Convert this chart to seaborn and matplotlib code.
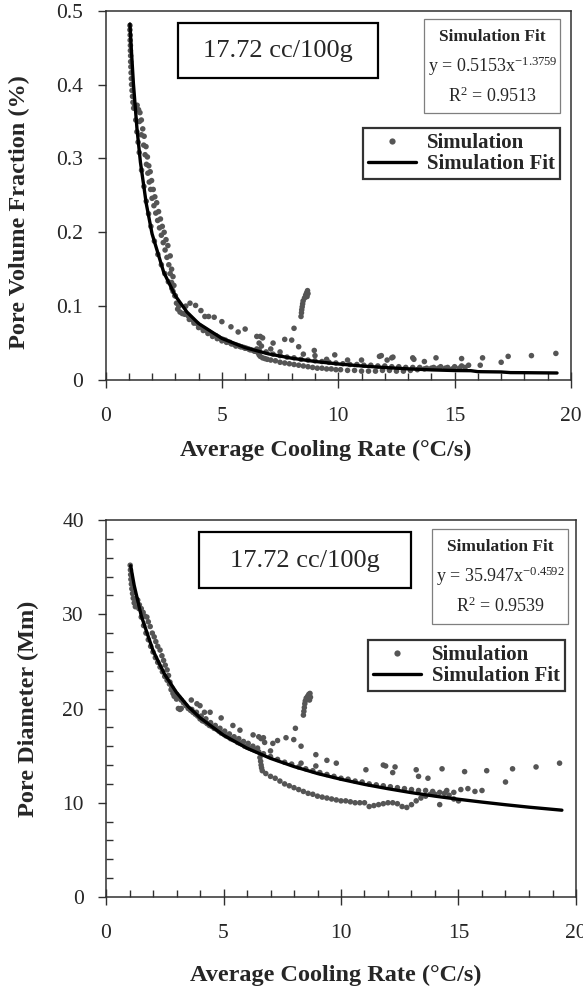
import numpy as np
import pandas as pd
import matplotlib
matplotlib.use("Agg")
import matplotlib.pyplot as plt
import seaborn as sns
from matplotlib.patches import Rectangle
from matplotlib.lines import Line2D
from matplotlib.ticker import MultipleLocator, FixedLocator, FixedFormatter

# ---------------- data ----------------
vf_sim_points = [
    (1.05,0.480),(1.05,0.474),(1.06,0.467),(1.06,0.460),(1.07,0.453),(1.07,0.446),(1.08,0.439),(1.08,0.431),
    (1.09,0.424),(1.10,0.416),(1.11,0.408),(1.12,0.400),(1.14,0.392),(1.16,0.384),(1.18,0.376),(1.21,0.368),
    (1.36,0.372),(1.42,0.366),(1.48,0.362),(1.46,0.350),(1.54,0.352),(1.60,0.340),(1.54,0.332),(1.66,0.330),
    (1.64,0.318),(1.74,0.316),(1.70,0.305),(1.80,0.302),(1.76,0.292),(1.86,0.290),(1.82,0.280),(1.92,0.282),
    (1.88,0.268),(1.98,0.270),(1.94,0.258),(2.05,0.258),(2.00,0.246),(2.12,0.248),(2.08,0.236),(2.20,0.240),
    (2.16,0.226),(2.28,0.228),(2.24,0.216),(2.36,0.218),(2.32,0.206),(2.44,0.208),(2.40,0.196),(2.52,0.200),
    (2.48,0.186),(2.60,0.190),(2.56,0.176),(2.68,0.182),(2.64,0.166),(2.78,0.168),(2.72,0.156),(2.84,0.150),
    (2.78,0.144),(2.90,0.140),(2.84,0.132),(2.94,0.128),(2.90,0.120),(2.98,0.114),
    (1.25,0.372),(1.30,0.352),(1.35,0.336),(1.40,0.322),(1.45,0.308),(1.55,0.284),(1.65,0.262),(1.75,0.242),
    (1.85,0.225),(1.95,0.208),(2.10,0.188),(2.25,0.170),(2.40,0.156),(2.55,0.144),(2.70,0.133),(2.85,0.124),
    (3.00,0.114),(3.05,0.104),(3.10,0.096),(3.20,0.092),(3.30,0.090),(3.40,0.089),(3.15,0.100),
    (3.45,0.090),(3.55,0.087),(3.65,0.084),(3.75,0.081),(3.85,0.078),(3.95,0.076),(4.05,0.073),(4.15,0.071),
    (4.25,0.069),(4.35,0.067),(4.45,0.065),(4.55,0.063),(4.65,0.061),(4.75,0.060),(4.85,0.058),(4.95,0.056),
    (5.05,0.055),(5.15,0.054),(5.25,0.052),(5.35,0.051),(5.45,0.049),(5.55,0.048),(5.65,0.047),(5.75,0.046),
    (5.85,0.045),(5.95,0.044),(6.05,0.043),(6.15,0.042),(6.25,0.041),(6.35,0.040),(6.45,0.039),
    (3.60,0.082),(3.80,0.077),(4.00,0.071),(4.20,0.067),(4.40,0.063),(4.60,0.059),(4.80,0.056),(5.00,0.053),
    (5.20,0.051),(5.40,0.049),(5.60,0.046),(5.80,0.045),(6.00,0.043),(6.20,0.041),(6.40,0.039),
    (3.45,0.100),(3.63,0.104),(3.87,0.101),(4.10,0.094),(4.27,0.086),(4.43,0.086),(4.67,0.085),(5.00,0.079),
    (5.39,0.072),(5.70,0.065),(6.00,0.069),(6.50,0.059),(6.65,0.059),(6.75,0.057),(6.60,0.050),(6.70,0.046),
    (7.20,0.050),(7.70,0.055),(8.10,0.070),(8.00,0.054),(8.30,0.045),(8.97,0.040),(9.85,0.034),(9.50,0.028),
    (10.40,0.027),(11.00,0.027),(11.77,0.032),(11.85,0.033),(12.10,0.027),(12.30,0.030),(12.35,0.031),
    (13.20,0.030),(13.25,0.028),(13.70,0.025),(14.20,0.030),(15.30,0.029),(15.60,0.020),(16.10,0.020),
    (16.20,0.030),(17.00,0.024),(17.30,0.032),(18.30,0.033),(19.35,0.036),(7.10,0.042),(7.50,0.038),
    (8.50,0.035),(9.00,0.033),
    (8.40,0.086),(8.42,0.091),(8.43,0.095),(8.45,0.099),(8.47,0.103),(8.49,0.107),(8.55,0.111),(8.60,0.115),
    (8.64,0.118),(8.68,0.121),(8.70,0.117),(8.66,0.113),
    (6.50,0.042),(6.55,0.037),(6.60,0.034),(6.65,0.032),(6.75,0.030),(6.85,0.029),(6.95,0.028),(7.10,0.027),
    (7.30,0.026),(7.50,0.024),(7.70,0.023),(7.90,0.022),(8.10,0.021),(8.30,0.020),(8.50,0.019),(8.70,0.018),
    (8.90,0.017),(9.10,0.016),(9.30,0.016),(9.50,0.015),(9.70,0.015),(9.90,0.014),(10.10,0.014),(10.40,0.013),
    (10.70,0.013),(11.00,0.012),(11.30,0.012),(11.60,0.012),(11.90,0.013),(12.20,0.013),(12.50,0.012),
    (12.80,0.012),(13.10,0.013),(13.40,0.014),(13.70,0.015),(14.00,0.016),(14.30,0.016),(14.60,0.016),
    (14.90,0.015),(15.20,0.016),(15.45,0.017),
    (6.60,0.041),(6.90,0.038),(7.20,0.035),(7.50,0.033),(7.80,0.031),(8.10,0.030),(8.40,0.028),(8.70,0.027),
    (9.00,0.026),(9.30,0.025),(9.60,0.024),(9.90,0.023),(10.20,0.022),(10.50,0.021),(10.80,0.021),(11.10,0.020),
    (11.40,0.020),(11.70,0.019),(12.00,0.019),(12.30,0.018),(12.60,0.018),(12.90,0.017),(13.20,0.017),
    (13.50,0.017),(13.80,0.016),(14.10,0.017),(14.40,0.018),(14.70,0.017),(15.00,0.018),(15.30,0.019),
]
vf_fit_x = [1.05, 1.1, 1.2, 1.35, 1.5, 1.75, 2.0, 2.5, 3.0, 3.5, 4.0, 5.0, 6.0, 7.0, 8.0, 9.0, 10.0,
            11.0, 12.0, 13.0, 14.0, 15.0, 15.7, 16.0, 17.0, 17.4, 18.0, 19.4]
vf_fit_y = [0.482, 0.453, 0.401, 0.341, 0.295, 0.239, 0.198, 0.146, 0.114, 0.092, 0.0765, 0.0563, 0.0438,
            0.0354, 0.0295, 0.0251, 0.0217, 0.0190, 0.0169, 0.0151, 0.0137, 0.0128, 0.0126, 0.0113, 0.0109,
            0.0100, 0.0099, 0.0095]

pd_sim_points = [
    (1.03,35.2),(1.04,34.7),(1.05,34.2),(1.06,33.7),(1.08,33.2),(1.10,32.7),(1.13,32.2),(1.16,31.7),(1.20,31.2),
    (1.25,30.8),
    (1.35,31.5),(1.42,31.0),(1.50,30.6),(1.58,30.2),(1.65,29.8),(1.74,29.7),(1.80,29.2),(1.88,28.7),(1.97,28.0),
    (2.05,27.6),(2.12,27.1),(2.20,26.6),(2.30,26.2),(2.38,25.6),(2.45,25.1),(2.52,24.6),(2.60,24.1),(2.66,23.5),
    (2.72,22.8),(2.77,22.0),(2.85,21.6),(2.90,21.3),(3.00,21.0),(3.08,20.0),(3.15,19.9),(3.20,20.0),
    (1.30,31.6),(1.40,30.6),(1.50,29.7),(1.60,28.8),(1.70,28.0),(1.80,27.3),(1.90,26.6),(2.00,26.0),(2.10,25.4),
    (2.20,24.9),(2.30,24.4),(2.40,23.9),(2.50,23.4),(2.60,23.0),(2.70,22.6),(2.80,22.2),(2.90,21.8),(3.00,21.5),
    (3.10,21.2),(3.20,20.9),(3.30,20.6),(3.40,20.3),
    (3.50,20.0),(3.60,19.8),(3.70,19.6),(3.80,19.4),(3.90,19.2),(4.00,18.9),(4.10,18.7),(4.20,18.6),(4.30,18.4),
    (4.40,18.2),(4.50,18.1),(4.60,17.9),(4.70,17.8),(4.80,17.6),(4.90,17.4),(5.00,17.3),(5.10,17.1),(5.20,17.0),
    (5.30,16.8),(5.40,16.7),(5.50,16.6),(5.60,16.4),(5.70,16.3),(5.80,16.2),(5.90,16.0),(6.00,15.9),(6.10,15.8),
    (6.20,15.7),(6.30,15.6),(6.40,15.5),(6.50,15.4),
    (3.65,19.9),(3.85,19.6),(4.05,19.2),(4.25,18.9),(4.45,18.5),(4.65,18.2),(4.85,17.9),(5.05,17.6),(5.25,17.3),
    (5.45,17.0),(5.65,16.8),(5.85,16.5),(6.05,16.3),(6.25,16.0),(6.45,15.8),
    (3.63,20.9),(3.87,20.5),(4.00,20.3),(4.19,19.6),(4.43,19.6),(4.90,19.0),(5.40,18.2),(5.70,17.7),(6.26,17.2),
    (6.50,17.0),(6.60,16.8),(6.70,16.9),(6.75,16.4),(7.10,16.3),(7.30,16.6),(7.66,16.9),(8.06,17.9),(7.99,16.7),
    (8.30,16.0),(8.93,15.1),(8.30,14.2),(8.93,13.9),(9.80,14.2),(11.06,13.5),(11.80,14.0),(11.90,13.9),
    (12.30,13.8),(12.20,13.2),(13.20,13.5),(13.30,12.8),(13.70,12.6),(14.30,13.6),(15.26,13.3),(16.20,13.4),
    (17.00,12.2),(17.30,13.6),(18.30,13.8),(19.30,14.2),(9.40,14.5),(7.00,15.5),
    (8.40,19.3),(8.42,19.7),(8.44,20.1),(8.46,20.5),(8.48,20.8),(8.52,21.1),(8.58,21.3),(8.63,21.5),(8.68,21.6),
    (8.70,21.2),(8.66,20.9),
    (6.55,14.8),(6.58,14.4),(6.60,14.0),(6.62,13.7),(6.65,13.4),
    (6.80,13.1),(7.00,12.8),(7.20,12.6),(7.40,12.3),(7.60,12.0),(7.80,11.8),(8.00,11.6),(8.20,11.4),(8.40,11.2),
    (8.60,11.0),(8.80,10.9),(9.00,10.7),(9.20,10.6),(9.40,10.5),(9.60,10.4),(9.80,10.3),(10.00,10.2),
    (10.20,10.2),(10.40,10.1),(10.60,10.0),(10.80,10.0),(11.00,10.0),(11.20,9.6),(11.40,9.7),(11.60,9.8),
    (11.80,9.9),(12.00,10.0),(12.20,10.0),(12.40,9.9),(12.60,9.6),(12.80,9.5),(13.00,9.8),(13.20,10.2),
    (13.40,10.5),(13.60,10.7),(13.80,10.9),(14.00,10.9),(14.20,9.8),(14.40,11.0),(14.60,10.8),(14.80,10.4),
    (15.00,10.2),
    (6.70,15.2),(7.00,14.9),(7.30,14.6),(7.60,14.3),(7.90,14.1),(8.20,13.8),(8.50,13.6),(8.80,13.4),(9.10,13.2),
    (9.40,13.0),(9.70,12.8),(10.00,12.6),(10.30,12.5),(10.60,12.3),(10.90,12.2),(11.20,12.0),(11.50,11.9),
    (11.80,11.8),(12.10,11.7),(12.40,11.6),(12.70,11.5),(13.00,11.4),(13.30,11.3),(13.60,11.3),(13.90,11.2),
    (14.20,11.1),(14.50,11.3),(14.80,11.1),(15.10,11.4),(15.40,11.5),(15.70,11.2),(16.00,11.3),
]
pd_fit_x = [1.05, 1.2, 1.5, 2.0, 2.5, 3.0, 3.5, 4.0, 5.0, 6.0, 7.0, 8.0, 9.0, 10.0, 11.0, 12.0, 13.0,
            14.0, 15.0, 16.0, 17.0, 18.0, 19.4]
pd_fit_y = [35.15, 33.06, 29.84, 26.15, 23.6, 21.7, 20.2, 19.02, 17.17, 15.79, 14.71, 13.84, 13.1, 12.49,
            11.95, 11.49, 11.07, 10.7, 10.37, 10.07, 9.79, 9.53, 9.21]

x_ticks = [0, 5, 10, 15, 20]
vf_ticks = [0, 0.1, 0.2, 0.3, 0.4, 0.5]
vf_tick_labels = ["0", "0.1", "0.2", "0.3", "0.4", "0.5"]
pd_ticks = [0, 10, 20, 30, 40]
pd_tick_labels = ["0", "10", "20", "30", "40"]

x_title = "Average Cooling Rate (\u00b0C/s)"
vf_title = "Pore Volume Fraction (%)"
pd_title = "Pore Diameter (Mm)"
box_label = "17.72 cc/100g"
vf_eq = r"y = 0.5153x$^{-1.3759}$"
vf_r2 = r"R$^{2}$ = 0.9513"
pd_eq = r"y = 35.947x$^{-0.4592}$"
pd_r2 = r"R$^{2}$ = 0.9539"
legend_labels = ["Simulation", "Simulation Fit"]

# ---------------- style ----------------
sns.set_style("ticks")
plt.rcParams['font.family'] = ['Liberation Serif', 'DejaVu Serif']
plt.rcParams['mathtext.default'] = 'regular'
SPINE = '#303030'
DOT = '#555555'

W, H = 583, 991
fig = plt.figure(figsize=(W / 100, H / 100), dpi=100)


def fx(px):
    return px / W


def fy(py):
    return 1 - py / H


def panel(ax_px, pts, fit_x, fit_y, ylim, yticks, ylabels, ytitle, ytitle_px,
          xtitle_px, box_px, fit_box_px, eq, r2, leg_anchor_px, yminor):
    l, t, r, b = ax_px
    ax = fig.add_axes([fx(l), fy(b), (r - l) / W, (b - t) / H])
    df = pd.DataFrame(pts, columns=["rate", "val"])
    sns.scatterplot(data=df, x="rate", y="val", ax=ax, color=DOT, s=16,
                    linewidth=0, edgecolor='none', legend=False, zorder=2)
    fdf = pd.DataFrame({"rate": fit_x, "val": fit_y})
    sns.lineplot(data=fdf, x="rate", y="val", ax=ax, color='black', lw=2.4,
                 estimator=None, legend=False, zorder=3)
    ax.set_xlim(0, 20)
    ax.set_ylim(*ylim)
    ax.xaxis.set_major_locator(FixedLocator(x_ticks))
    ax.xaxis.set_minor_locator(MultipleLocator(1))
    ax.yaxis.set_major_locator(FixedLocator(yticks))
    ax.yaxis.set_major_formatter(FixedFormatter(ylabels))
    if yminor:
        ax.yaxis.set_minor_locator(MultipleLocator(yminor))
        ax.tick_params(axis='y', which='minor', direction='in', length=5,
                       width=1, color=SPINE)
    else:
        ax.yaxis.set_minor_locator(FixedLocator([]))
    ax.tick_params(axis='x', which='major', direction='inout', length=11,
                   width=1, color=SPINE, pad=14, labelsize=15.5)
    ax.tick_params(axis='x', which='minor', direction='in', length=5,
                   width=1, color=SPINE)
    ax.tick_params(axis='y', which='major', direction='out', length=6,
                   width=1, color=SPINE, pad=10, labelsize=15.5)
    for s in ax.spines.values():
        s.set_visible(True)
        s.set_color(SPINE)
        s.set_linewidth(1.1)
    ax.set_xlabel("")
    ax.set_ylabel("")
    fig.text(fx(xtitle_px[0]), fy(xtitle_px[1]), x_title, ha='center', va='center',
             fontsize=17.5, fontweight='bold')
    fig.text(fx(ytitle_px[0]), fy(ytitle_px[1]), ytitle, ha='center', va='center',
             rotation=90, fontsize=17.5, fontweight='bold')
    # label box
    bl, bt, br, bb = box_px
    ax.add_patch(Rectangle((fx(bl), fy(bb)), (br - bl) / W, (bb - bt) / H,
                           transform=fig.transFigure, facecolor='white',
                           edgecolor='black', lw=1.6, clip_on=False, zorder=5))
    ax.text(fx((bl + br) / 2), fy((bt + bb) / 2 + 1), box_label, transform=fig.transFigure,
            ha='center', va='center', fontsize=19, zorder=6)
    # fit box
    fl, ft, fr, fb = fit_box_px
    ax.add_patch(Rectangle((fx(fl), fy(fb)), (fr - fl) / W, (fb - ft) / H,
                           transform=fig.transFigure, facecolor='white',
                           edgecolor='#7f7f7f', lw=0.9, clip_on=False, zorder=5))
    cx = fx((fl + fr) / 2)
    ax.text(cx, fy(ft + 18), "Simulation Fit", transform=fig.transFigure,
            ha='center', va='center', fontsize=12.5, fontweight='bold', zorder=6)
    ax.text(cx, fy(ft + 47), eq, transform=fig.transFigure,
            ha='center', va='center', fontsize=13, zorder=6)
    ax.text(cx, fy(ft + 77), r2, transform=fig.transFigure,
            ha='center', va='center', fontsize=13, zorder=6)
    # legend
    handles = [Line2D([], [], ls='none', marker='o', color=DOT, markersize=4.5, mew=0),
               Line2D([], [], color='black', lw=2.4)]
    leg = ax.legend(handles, legend_labels, loc='upper right',
                    bbox_to_anchor=(fx(leg_anchor_px[0]), fy(leg_anchor_px[1])),
                    bbox_transform=fig.transFigure, frameon=True, fancybox=False,
                    prop={'family': 'Liberation Serif', 'weight': 'bold', 'size': 15},
                    borderpad=0.25, labelspacing=0.05, handlelength=2.3,
                    handletextpad=0.5, borderaxespad=0)
    leg.get_frame().set_edgecolor('black')
    leg.get_frame().set_linewidth(1.6)
    leg.set_zorder(7)
    return ax


panel((105.5, 10.7, 571, 380), vf_sim_points, vf_fit_x, vf_fit_y, (0, 0.5), vf_ticks,
      vf_tick_labels, vf_title, (19, 212), (326, 450), (178, 23, 378, 78),
      (424, 19, 560, 113), vf_eq, vf_r2, (560, 128), None)
panel((106, 520, 576, 897), pd_sim_points, pd_fit_x, pd_fit_y, (0, 40), pd_ticks,
      pd_tick_labels, pd_title, (28, 709), (336, 975), (199, 532, 411, 588),
      (432, 529, 568, 624), pd_eq, pd_r2, (565, 640), 2)

fig.savefig("out.png", dpi=100)
